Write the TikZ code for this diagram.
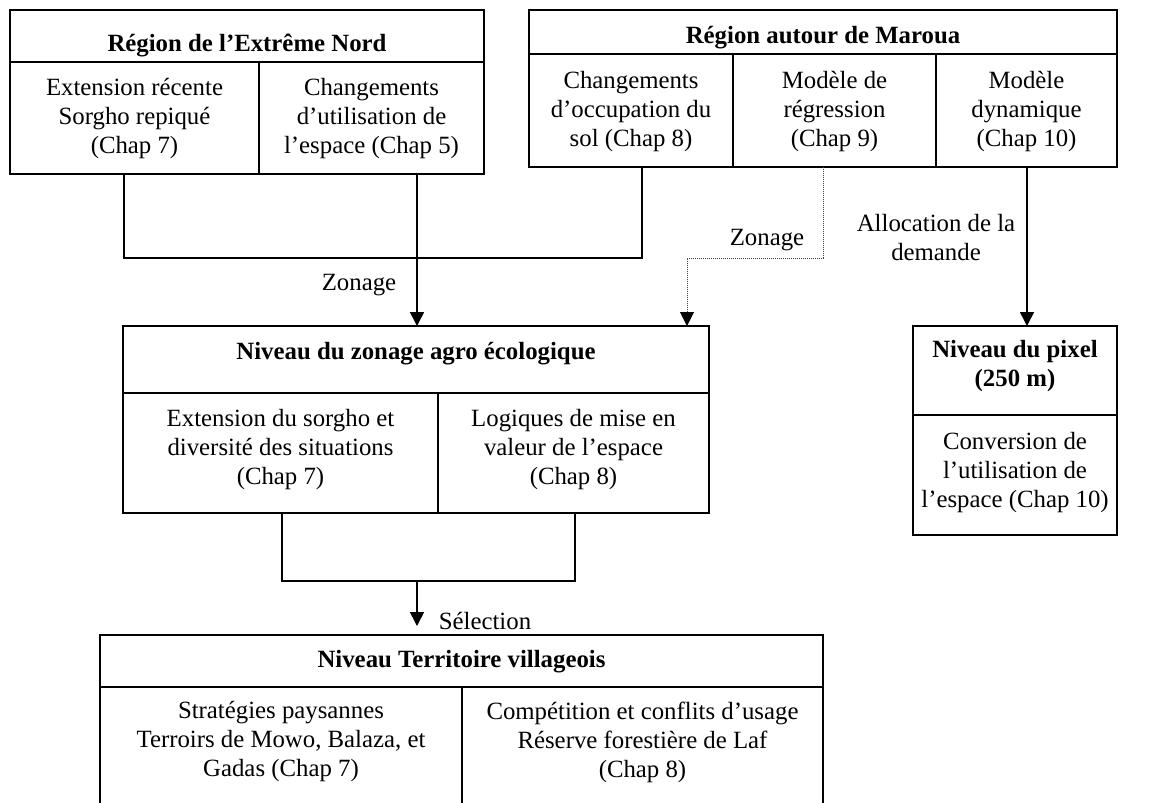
\documentclass[tikz,border=0pt]{standalone}
\usepackage{fontspec}
\setmainfont{Liberation Serif}
\usetikzlibrary{arrows.meta}
\begin{document}
\begin{tikzpicture}[x=1pt,y=-1pt,
  box/.style={draw, line width=1.7pt, inner sep=0pt, outer sep=0pt, anchor=north west},
  rule/.style={line width=1.7pt},
  conn/.style={line width=1.6pt},
  arr/.style={conn, -{Triangle[width=14pt,length=14pt]}},
  dots/.style={line width=0.9pt, black!75, dash pattern=on 1pt off 1pt, -{Triangle[width=14pt,length=14pt,color=black]}},
  txt/.style={font=\fontsize{24.8}{29}\selectfont, align=center, inner sep=0pt},
  hd/.style={font=\fontsize{24.8}{29}\selectfont\bfseries, align=center, inner sep=0pt}]
\useasboundingbox (0,0) rectangle (1159,803);
% boxes
\node[box, minimum width=474pt, minimum height=164pt] (A) at (10,10) {};
\node[box, minimum width=588pt, minimum height=157pt] (B) at (529,10) {};
\node[box, minimum width=586pt, minimum height=187pt] (G) at (123,326) {};
\node[box, minimum width=204pt, minimum height=209pt] (P) at (913,326) {};
\node[box, minimum width=723pt, minimum height=200pt] (V) at (100,635) {};
% inner rules
\draw[rule] (10,62) -- (484,62);
\draw[rule] (259,62) -- (259,174);
\draw[rule] (529,54) -- (1117,54);
\draw[rule] (733,54) -- (733,167);
\draw[rule] (936,54) -- (936,167);
\draw[rule] (123,393) -- (709,393);
\draw[rule] (438,393) -- (438,513);
\draw[rule] (913,415) -- (1117,415);
\draw[rule] (100,687) -- (823,687);
\draw[rule] (462,687) -- (462,810);
% texts
\node[hd, anchor=base] (Ah) at (247,51.5) {Région de l’Extrême Nord};
\node[txt] (A1) at (134.5,118.5) {Extension récente\\Sorgho repiqué\\(Chap 7)};
\node[txt] (A2) at (371.5,118.5) {Changements\\d’utilisation de\\l’espace (Chap 5)};
\node[hd, anchor=base] (Bh) at (823,43.5) {Région autour de Maroua};
\node[txt] (B1) at (631,112) {Changements\\d’occupation du\\sol (Chap 8)};
\node[txt] (B2) at (834.5,112) {Modèle de\\régression\\(Chap 9)};
\node[txt] (B3) at (1026.5,112) {Modèle\\dynamique\\(Chap 10)};
\node[hd, anchor=base] (Gh) at (416,359) {Niveau du zonage agro écologique};
\node[txt] (G1) at (280.5,450) {Extension du sorgho et\\diversité des situations\\(Chap 7)};
\node[txt] (G2) at (573.5,450) {Logiques de mise en\\valeur de l’espace\\(Chap 8)};
\node[hd] (Ph) at (1015,366) {Niveau du pixel\\(250 m)};
\node[txt] (P1) at (1015,473) {Conversion de\\l’utilisation de\\l’espace (Chap 10)};
\node[hd, anchor=base] (Vh) at (461.5,667) {Niveau Territoire villageois};
\node[txt] (V1) at (281,742) {Stratégies paysannes\\Terroirs de Mowo, Balaza, et\\Gadas (Chap 7)};
\node[txt] (V2) at (642.5,742) {Compétition et conflits d’usage\\Réserve forestière de Laf\\(Chap 8)};
% labels
\node[txt, anchor=base] (L1) at (359,290) {Zonage};
\node[txt, anchor=base] (L2) at (767,245) {Zonage};
\node[txt] (L3) at (936,238) {Allocation de la\\demande};
\node[txt, anchor=base] (L4) at (485,629) {Sélection};
% connector end points
\coordinate (a1) at (124,174);
\coordinate (a2) at (417,174);
\coordinate (j1) at (124,258);
\coordinate (b1) at (642,167);
\coordinate (b2) at (823,167);
\coordinate (b3) at (1027,167);
\coordinate (g1) at (417,326);
\coordinate (g2) at (687,326);
\coordinate (p1) at (1027,326);
\coordinate (g3) at (282,513);
\coordinate (g4) at (575,513);
\coordinate (k) at (417,581);
\coordinate (v1) at (417,626);
% connectors
\draw[conn] (a1) -- (j1) -| (b1);
\draw[arr] (a2) -- (g1);
\draw[dots] (b2) |- (g2 |- j1) -- (g2);
\draw[arr] (b3) -- (p1);
\draw[conn] (g3) |- (k) -| (g4);
\draw[arr] (k) -- (v1);
\end{tikzpicture}
\end{document}
